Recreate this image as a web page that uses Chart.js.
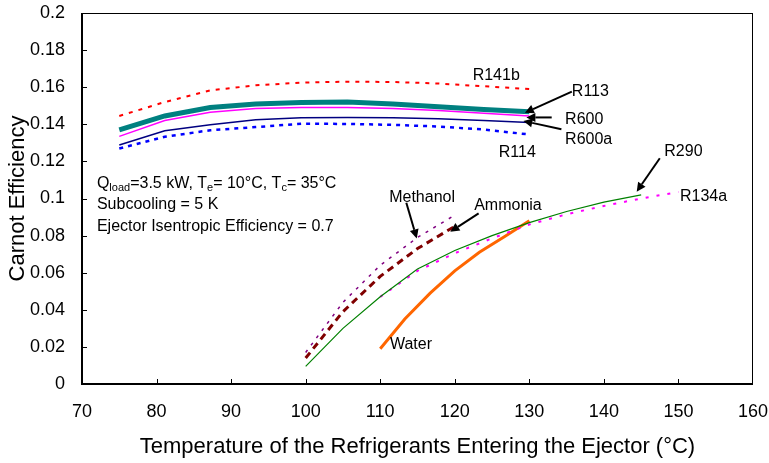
<!DOCTYPE html>
<html>
<head>
<meta charset="utf-8">
<script src="https://cdn.jsdelivr.net/npm/chart.js@4.4.1/dist/chart.umd.min.js"></script>
<style>
  html, body { margin: 0; padding: 0; background: #fff; }
  #wrap { width: 769px; height: 463px; }
</style>
</head>
<body>
<div id="wrap"><canvas id="myChart"></canvas></div>
<script>
// DATA
// upper group: same temperatures for all five refrigerants
const tempHigh = [75, 81.1, 87.2, 93.3, 99.4, 105.6, 111.7, 117.8, 123.9, 130];
const r141b = [0.1445, 0.152, 0.1583, 0.161, 0.1625, 0.163, 0.1628, 0.162, 0.1605, 0.159];
const r113  = [0.137, 0.1445, 0.149, 0.151, 0.1518, 0.152, 0.151, 0.1495, 0.148, 0.1468];
const r600  = [0.1335, 0.142, 0.1465, 0.1485, 0.149, 0.149, 0.1485, 0.1475, 0.146, 0.1445];
const r600a = [0.1288, 0.1365, 0.1398, 0.1425, 0.1435, 0.1437, 0.1435, 0.143, 0.142, 0.141];
const r114  = [0.127, 0.1333, 0.1368, 0.1385, 0.1403, 0.1402, 0.1397, 0.1388, 0.1372, 0.1345];

// lower group
const tempMeth = [100, 105, 110, 115, 120];
const methanol = [0.017, 0.044, 0.064, 0.079, 0.091];
const tempAmm = [100, 105, 110, 115, 120];
const ammonia = [0.014, 0.039, 0.058, 0.073, 0.085];
const tempR290 = [100, 105, 110, 115, 120, 125, 130, 135, 140, 145];
const r290 = [0.0095, 0.030, 0.047, 0.062, 0.072, 0.080, 0.087, 0.093, 0.098, 0.102];
const tempR134a = [110, 115, 120, 125, 130, 135, 140, 145, 150];
const r134a = [0.047, 0.061, 0.0705, 0.0785, 0.086, 0.0915, 0.096, 0.100, 0.1035];
const tempWater = [110, 113.3, 116.7, 120, 123.3, 126.7, 130];
const water = [0.019, 0.035, 0.049, 0.061, 0.071, 0.0795, 0.088];

// AXES
const xMin = 70, xMax = 160, xStep = 10;
const yMin = 0, yMax = 0.2, yStep = 0.02;

// LABELS (data units: x, y of left/middle of text)
const curveLabels = [
    ['R141b', 122.4, 0.1663],
    ['R113', 135.7, 0.1579],
    ['R600', 134.8, 0.1423],
    ['R600a', 134.8, 0.1315],
    ['R114', 125.9, 0.1245],
    ['R290', 148.1, 0.1252],
    ['R134a', 150.2, 0.101],
    ['Methanol', 111.2, 0.1005],
    ['Ammonia', 122.6, 0.096],
    ['Water', 111.3, 0.021]
];
// arrows: from (x1,y1) to head at (x2,y2)
const arrows = [
    [135.7, 0.1576, 129.4, 0.1462],
    [133.0, 0.1437, 129.6, 0.1437],
    [134.3, 0.1373, 129.2, 0.1418],
    [147.5, 0.1217, 144.4, 0.1037],
    [113.5, 0.0977, 114.9, 0.0785],
    [123.2, 0.092, 119.4, 0.0821]
];
// condition notes, each line split in normal/subscript pieces
const notes = [
    [['Q'], ['load', 1], ['=3.5 kW, T'], ['e', 1], ['= 10°C, T'], ['c', 1], ['= 35°C']],
    [['Subcooling = 5 K']],
    [['Ejector Isentropic Efficiency = 0.7']]
];
const notesX = 72.0;
const notesY = [0.1083, 0.0965, 0.0846];

const FONT = '"Liberation Sans", Arial, sans-serif';

function pts(xs, ys) {
    return xs.map((x, i) => ({ x: x, y: ys[i] }));
}

function series(label, xs, ys, color, width, dash) {
    return {
        label: label,
        data: pts(xs, ys),
        borderColor: color,
        backgroundColor: color,
        borderWidth: width,
        borderDash: dash || [],
        pointRadius: 0,
        fill: false,
        tension: 0
    };
}

// draws box, inward ticks, texts and arrows
const extras = {
    id: 'extras',
    afterDraw(chart) {
        const c = chart.ctx;
        const xs = chart.scales.x, ys = chart.scales.y;
        const a = chart.chartArea;
        c.save();

        // frame
        c.strokeStyle = '#000';
        c.lineWidth = 1;
        c.strokeRect(a.left + 0.5, a.top + 0.5, a.right - a.left - 1, a.bottom - a.top);
        c.lineWidth = 2;
        c.beginPath();
        c.moveTo(a.left, a.top);
        c.lineTo(a.left, a.bottom);
        c.lineTo(a.right, a.bottom);
        c.stroke();

        // inward ticks
        c.lineWidth = 1;
        c.beginPath();
        for (let v = xMin + xStep; v < xMax; v += xStep) {
            const px = Math.round(xs.getPixelForValue(v)) + 0.5;
            c.moveTo(px, a.bottom);
            c.lineTo(px, a.bottom - 5);
        }
        for (let v = yMin + yStep; v < yMax - 1e-9; v += yStep) {
            const py = Math.round(ys.getPixelForValue(v)) + 0.5;
            c.moveTo(a.left, py);
            c.lineTo(a.left + 5, py);
        }
        c.stroke();

        // curve labels
        c.fillStyle = '#000';
        c.textBaseline = 'middle';
        c.textAlign = 'left';
        c.font = '16px ' + FONT;
        curveLabels.forEach(l => {
            c.fillText(l[0], xs.getPixelForValue(l[1]), ys.getPixelForValue(l[2]));
        });

        // arrows
        c.strokeStyle = '#000';
        c.lineWidth = 2;
        arrows.forEach(ar => {
            const x1 = xs.getPixelForValue(ar[0]), y1 = ys.getPixelForValue(ar[1]);
            const x2 = xs.getPixelForValue(ar[2]), y2 = ys.getPixelForValue(ar[3]);
            const ang = Math.atan2(y2 - y1, x2 - x1);
            const hl = 9, hw = 4.5;
            const bx = x2 - hl * Math.cos(ang), by = y2 - hl * Math.sin(ang);
            c.beginPath();
            c.moveTo(x1, y1);
            c.lineTo(bx, by);
            c.stroke();
            c.beginPath();
            c.moveTo(x2, y2);
            c.lineTo(bx + hw * Math.sin(ang), by - hw * Math.cos(ang));
            c.lineTo(bx - hw * Math.sin(ang), by + hw * Math.cos(ang));
            c.closePath();
            c.fill();
        });

        // notes
        notes.forEach((line, i) => {
            let x = xs.getPixelForValue(notesX);
            const y = ys.getPixelForValue(notesY[i]);
            line.forEach(p => {
                if (p[1]) {
                    c.font = '11px ' + FONT;
                    c.fillText(p[0], x, y + 5);
                } else {
                    c.font = '16px ' + FONT;
                    c.fillText(p[0], x, y);
                }
                x += c.measureText(p[0]).width;
            });
        });
        c.restore();
    }
};

const chart = new Chart(document.getElementById('myChart'), {
    type: 'line',
    data: {
        datasets: [
            series('R141b', tempHigh, r141b, '#ff0000', 2, [4, 6]),
            series('R113', tempHigh, r113, '#008080', 5),
            series('R600', tempHigh, r600, '#ff00ff', 1.5),
            series('R600a', tempHigh, r600a, '#000080', 1.5),
            series('R114', tempHigh, r114, '#0000ff', 2.5, [4, 5]),
            series('Methanol', tempMeth, methanol, '#800080', 1.5, [3, 6]),
            series('Ammonia', tempAmm, ammonia, '#800000', 3, [7, 5]),
            series('R290', tempR290, r290, '#008000', 1.2),
            series('R134a', tempR134a, r134a, '#ff00ff', 2, [3, 8]),
            series('Water', tempWater, water, '#ff6600', 3)
        ]
    },
    options: {
        responsive: true,
        maintainAspectRatio: false,
        animation: false,
        layout: { padding: { top: 0, right: 0, left: 0, bottom: 0 } },
        plugins: {
            legend: { display: false },
            tooltip: { enabled: false }
        },
        scales: {
            x: {
                type: 'linear',
                min: xMin, max: xMax,
                afterFit: s => { s.height = 79; s.paddingRight = 16; },
                grid: { display: false, drawTicks: false },
                border: { display: false },
                ticks: {
                    stepSize: xStep,
                    padding: 17,
                    color: '#000',
                    font: { family: FONT, size: 18 }
                },
                title: {
                    display: true,
                    text: 'Temperature of the Refrigerants Entering the Ejector (°C)',
                    color: '#000',
                    font: { family: FONT, size: 22 },
                    padding: { top: 0, bottom: 3 }
                }
            },
            y: {
                min: yMin, max: yMax,
                afterFit: s => { s.width = 82; s.paddingTop = 13; },
                grid: { display: false, drawTicks: false },
                border: { display: false },
                ticks: {
                    stepSize: yStep,
                    padding: 17,
                    color: '#000',
                    font: { family: FONT, size: 18 },
                    callback: v => String(+v.toFixed(2))
                },
                title: {
                    display: true,
                    text: 'Carnot Efficiency',
                    color: '#000',
                    font: { family: FONT, size: 22 },
                    padding: { top: 5, bottom: 0 }
                }
            }
        }
    },
    plugins: [extras]
});
</script>
</body>
</html>
